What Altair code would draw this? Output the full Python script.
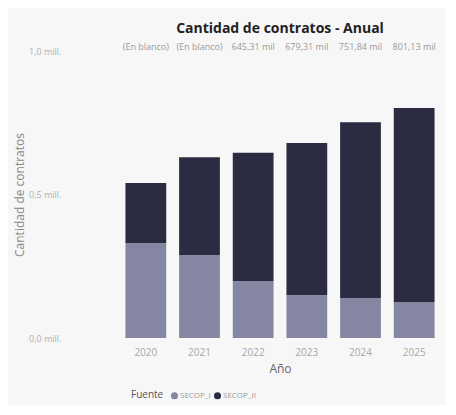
import altair as alt
import pandas as pd

years = ["2020", "2021", "2022", "2023", "2024", "2025"]
secop_i = [331000, 289000, 199000, 150000, 139000, 125000]
secop_ii = [209000, 341000, 446310, 529310, 612840, 676130]
top_labels = ["(En blanco)", "(En blanco)", "645,31 mil", "679,31 mil", "751,84 mil", "801,13 mil"]
series = ["SECOP_I", "SECOP_II"]
colors = ["#8486a2", "#2b2c42"]

rows = []
for i, y in enumerate(years):
    rows.append({"Año": y, "Fuente": series[0], "valor": secop_i[i], "orden": 0})
    rows.append({"Año": y, "Fuente": series[1], "valor": secop_ii[i], "orden": 1})
df = pd.DataFrame(rows)
lab = pd.DataFrame({"Año": years, "label": top_labels})

FONT = "Open Sans"

x_enc = alt.X("Año:N", title="Año",
              scale=alt.Scale(paddingInner=0.24, paddingOuter=0.12),
              axis=alt.Axis(labelAngle=0, ticks=False, domain=False, labelPadding=9,
                            labelColor="#a8a8a8", labelFontSize=10, labelFont=FONT,
                            titleColor="#666666", titleFontSize=12, titleFont=FONT,
                            titleFontWeight="normal", titlePadding=6))

bars = alt.Chart(df).mark_bar().encode(
    x=x_enc,
    y=alt.Y("valor:Q", title="Cantidad de contratos", stack="zero",
            scale=alt.Scale(domain=[0, 1000000], nice=False),
            axis=alt.Axis(values=[0, 500000, 1000000], grid=False, ticks=False, domain=False,
                          labelExpr="replace(format(datum.value/1000000, '.1f'), '.', ',') + ' mill.'",
                          labelColor="#b0b0b0", labelFontSize=9, labelFont=FONT,
                          labelPadding=58, titlePadding=2,
                          titleColor="#888888", titleFontSize=12, titleFont=FONT,
                          titleFontWeight="normal")),
    color=alt.Color("Fuente:N", scale=alt.Scale(domain=series, range=colors),
                    legend=alt.Legend(orient="none", legendX=12, legendY=340,
                                      direction="horizontal", titleOrient="left",
                                      title="Fuente", symbolType="circle", symbolSize=50,
                                      labelFontSize=8, labelColor="#999999", labelFont=FONT,
                                      titleFontSize=10, titleColor="#555555", titleFont=FONT,
                                      titleFontWeight="normal", columnPadding=2, labelOffset=1,
                                      titlePadding=6)),
    order=alt.Order("orden:Q", sort="ascending"),
)

texts = alt.Chart(lab).mark_text(fontSize=9, color="#9a9a9a", font=FONT, baseline="middle", dy=-4).encode(
    x=alt.X("Año:N"),
    y=alt.datum(1000000),
    text="label:N",
)

chart = alt.layer(bars, texts).properties(
    width=322, height=287,
    background="#f7f7f7",
    padding={"top": 14, "left": 5, "right": 5, "bottom": 5},
    title=alt.TitleParams("Cantidad de contratos - Anual", fontSize=14, font=FONT,
                          fontWeight="bold", color="#222222", offset=7, anchor="middle"),
).configure_view(stroke=None)

chart.save("out.html", embed_options={"renderer": "svg", "actions": False})
